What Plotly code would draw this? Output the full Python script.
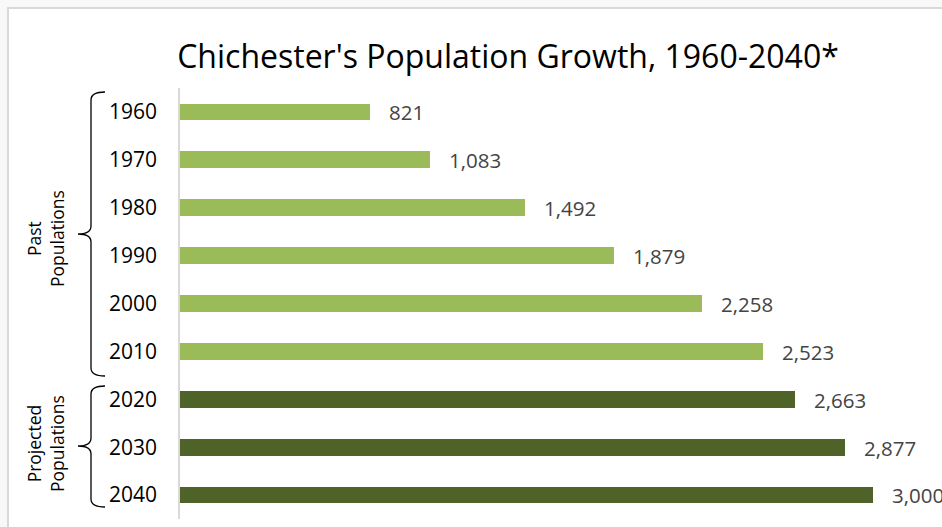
import plotly.graph_objects as go

years = ["1960", "1970", "1980", "1990", "2000", "2010", "2020", "2030", "2040"]
population = [821, 1083, 1492, 1879, 2258, 2523, 2663, 2877, 3000]
group = ["Past", "Past", "Past", "Past", "Past", "Past", "Projected", "Projected", "Projected"]
group_colors = {"Past": "#9BBB59", "Projected": "#4F6228"}

W, H = 942, 527
L, R, T, B = 180, 0, 88, 8
PW, PH = W - L - R, H - T - B


def px(x):
    return (x - L) / PW


def py(y):
    return (H - B - y) / PH


fig = go.Figure()
fig.add_trace(go.Bar(
    x=population, y=years, orientation="h",
    marker=dict(color=[group_colors[g] for g in group], line=dict(width=0)),
    width=0.35, hoverinfo="x+y",
    text=["\u00a0\u00a0\u00a0" + f"{v:,}" for v in population],
    textposition="outside", cliponaxis=False, constraintext="none",
    outsidetextfont=dict(family="Open Sans", size=20.5, color="#444444"),
))


def bracket(top, bottom, mid, xl=91, xtip=78, xh=105, r=8):
    pts = [
        ("M", xh, top), ("Q", xl, top, xl, top + r), ("L", xl, mid - r),
        ("Q", xl, mid, xtip, mid), ("Q", xl, mid, xl, mid + r), ("L", xl, bottom - r),
        ("Q", xl, bottom, xh, bottom),
    ]
    s = ""
    for p in pts:
        cmd = p[0]
        coords = p[1:]
        conv = []
        for k in range(0, len(coords), 2):
            conv.append(f"{px(coords[k]):.5f},{py(coords[k+1]):.5f}")
        s += cmd + " " + " ".join(conv) + " "
    return s.strip()


shapes = [
    dict(type="rect", xref="paper", yref="paper", x0=px(8), x1=px(960), y0=py(540), y1=py(8),
         fillcolor="white", line=dict(color="#d9d9d9", width=2), layer="below"),
    dict(type="path", xref="paper", yref="paper", path=bracket(92, 376, 234),
         line=dict(color="#000000", width=1.3)),
    dict(type="path", xref="paper", yref="paper", path=bracket(386, 507, 446),
         line=dict(color="#000000", width=1.3)),
    dict(type="line", xref="paper", yref="paper", x0=px(179), x1=px(179), y0=py(519), y1=py(88),
         line=dict(color="#d9d9d9", width=2)),
]

annotations = [
    dict(x=px(45), y=py(239), xref="paper", yref="paper", text="Past<br>Populations",
         textangle=-90, showarrow=False, xanchor="center", yanchor="middle",
         font=dict(family="Open Sans", size=17.5, color="#000000")),
    dict(x=px(45), y=py(444), xref="paper", yref="paper", text="Projected<br>Populations",
         textangle=-90, showarrow=False, xanchor="center", yanchor="middle",
         font=dict(family="Open Sans", size=17.5, color="#000000")),
]

fig.update_layout(
    width=W, height=H,
    margin=dict(l=L, r=R, t=T, b=B, pad=0),
    paper_bgcolor="#f8f8f8", plot_bgcolor="rgba(0,0,0,0)",
    title=dict(text="Chichester's Population Growth, 1960-2040*", x=508 / W, xanchor="center",
               y=1 - 57 / H, yanchor="middle", xref="container", yref="container",
               font=dict(family="Open Sans", size=32, color="#000000")),
    xaxis=dict(range=[0, PW / ((873 - 180) / 3000)], showgrid=False, zeroline=False,
               showticklabels=False, showline=False, fixedrange=True),
    yaxis=dict(type="category", categoryorder="array", categoryarray=years,
               range=[len(years) - 0.5, -0.5], showgrid=False, zeroline=False, showline=False,
               ticks="", ticklabelstandoff=22, fixedrange=True,
               tickfont=dict(family="Open Sans", size=21, color="#000000")),
    shapes=shapes, annotations=annotations, showlegend=False, bargap=0,
    uniformtext=dict(mode=False),
)

fig.write_html(
    "out.html",
    config={"displayModeBar": False},
    post_script="document.body.style.margin='0px';document.body.style.overflow='hidden';"
                "document.body.style.background='#f8f8f8';",
)
